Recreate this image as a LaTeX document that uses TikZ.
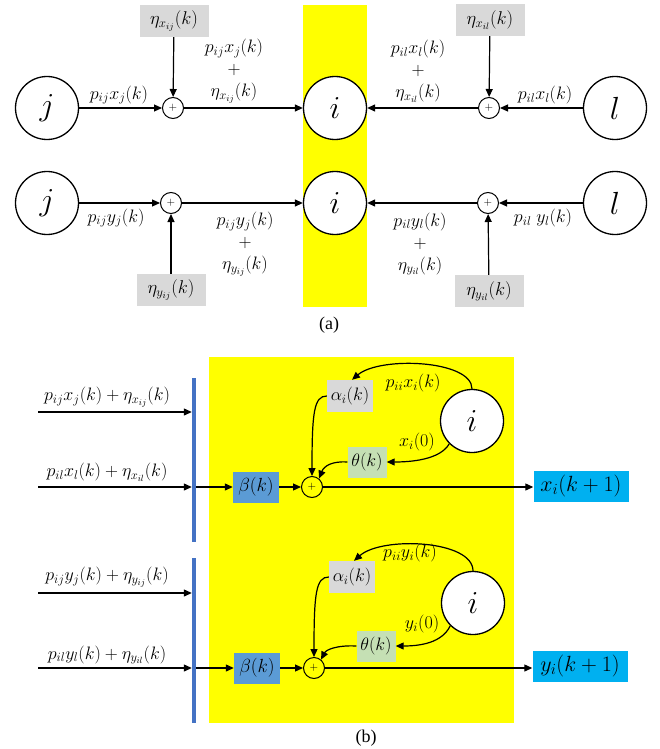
\RequirePackage{fix-cm}
\documentclass[tikz,border=0pt]{standalone}
\usepackage[no-math]{fontspec}
\setmainfont{Liberation Serif}
\usetikzlibrary{arrows.meta,calc}
\definecolor{yel}{HTML}{FFFF00}
\definecolor{grayfill}{HTML}{D9D9D9}
\definecolor{betafill}{HTML}{5B9BD5}
\definecolor{outfill}{HTML}{00B0F0}
\definecolor{thetafill}{HTML}{C5E0B4}
\definecolor{barfill}{HTML}{4472C4}
\begin{document}
\begin{tikzpicture}[x=1pt,y=-1pt,
  bignode/.style={circle,draw,line width=1.3pt,fill=white,minimum size=63pt,inner sep=0pt,font=\fontsize{32}{32}\selectfont},
  sumnode/.style={circle,draw,line width=1pt,minimum size=21pt,inner sep=0pt,font=\fontsize{11}{11}\selectfont},
  graybox/.style={fill=grayfill,minimum width=69pt,minimum height=32pt,inner sep=1pt,font=\fontsize{18.5}{18}\selectfont},
  lab/.style={inner sep=1pt,font=\fontsize{18}{22}\selectfont,align=center},
  inlab/.style={inner sep=1pt,font=\fontsize{18}{20}\selectfont},
  arr/.style={-{Triangle[length=8pt,width=7pt]},line width=1.2pt},
  betabox/.style={fill=betafill,minimum width=46pt,minimum height=31pt,inner sep=0pt,font=\fontsize{19}{20}\selectfont},
  outbox/.style={fill=outfill,minimum width=95pt,minimum height=31pt,inner sep=0pt,font=\fontsize{22}{24}\selectfont},
  alphabox/.style={fill=grayfill,minimum width=46pt,minimum height=32pt,inner sep=0pt,font=\fontsize{18}{18}\selectfont},
  thetabox/.style={fill=thetafill,minimum width=39pt,minimum height=31pt,inner sep=0pt,font=\fontsize{18}{18}\selectfont},
  bar/.style={fill=barfill,minimum width=4pt,inner sep=0pt},
  lbl/.style={inner sep=1pt,font=\fontsize{18}{18}\selectfont},
  captxt/.style={font=\fontsize{18}{20}\selectfont}
]
\useasboundingbox (0,0) rectangle (659,749);

% ---------------- (a) ----------------
\fill[yel] (303,5) rectangle (367,307);

\node[bignode] (j1) at (47,108) {$j$};
\node[bignode] (i1) at (335,108) {$i$};
\node[bignode] (l1) at (615,108) {$l$};
\node[sumnode] (s1) at (173,108) {$+$};
\node[sumnode] (s2) at (489,108) {$+$};
\node[graybox] (n1) at (174,21) {$\eta_{x_{ij}}(k)$};
\node[graybox] (n2) at (490,20) {$\eta_{x_{il}}(k)$};
\draw[arr] (j1) -- (s1);
\draw[arr] (n1) -- (s1);
\draw[arr] (s1) -- (i1);
\draw[arr] (l1) -- (s2);
\draw[arr] (n2) -- (s2);
\draw[arr] (s2) -- (i1);
\node[lab] (la1) at (119,95) {$p_{ij}x_j(k)$};
\node[lab] (la2) at (234,71) {$p_{ij}x_j(k)$\\$+$\\$\eta_{x_{ij}}(k)$};
\node[lab] (la3) at (545,95) {$p_{il}x_l(k)$};
\node[lab] (la4) at (418,71) {$p_{il}x_l(k)$\\$+$\\$\eta_{x_{il}}(k)$};

\node[bignode] (j2) at (47,203) {$j$};
\node[bignode] (i2) at (335,203) {$i$};
\node[bignode] (l2) at (615,203) {$l$};
\node[sumnode] (s3) at (171,203) {$+$};
\node[sumnode] (s4) at (488,203) {$+$};
\node[graybox] (n3) at (171,290) {$\eta_{y_{ij}}(k)$};
\node[graybox] (n4) at (489,291) {$\eta_{y_{il}}(k)$};
\draw[arr] (j2) -- (s3);
\draw[arr] (n3) -- (s3);
\draw[arr] (s3) -- (i2);
\draw[arr] (l2) -- (s4);
\draw[arr] (n4) -- (s4);
\draw[arr] (s4) -- (i2);
\node[lab] (lb1) at (116,218) {$p_{ij}y_j(k)$};
\node[lab] (lb2) at (245,244) {$p_{ij}y_j(k)$\\$+$\\$\eta_{y_{ij}}(k)$};
\node[lab] (lb3) at (543,218) {$p_{il}\;y_l(k)$};
\node[lab] (lb4) at (420,244) {$p_{il}y_l(k)$\\$+$\\$\eta_{y_{il}}(k)$};

\node[captxt] (capa) at (329,325) {(a)};

% ---------------- (b) ----------------
\fill[yel] (209,357) rectangle (514,723);
\node[bar,minimum height=164pt] (bar1) at (194,460) {};
\node[bar,minimum height=165pt] (bar2) at (194,640.5) {};

% top block
\coordinate (in1) at (38,412);
\coordinate (in2) at (38,487);
\draw[arr] (in1) -- (in1 -| bar1.west);
\draw[arr] (in2) -- (in2 -| bar1.west);
\node[inlab] (li1) at (107,397) {$p_{ij}x_j(k)+\eta_{x_{ij}}(k)$};
\node[inlab] (li2) at (107,472) {$p_{il}x_l(k)+\eta_{x_{il}}(k)$};
\node[betabox] (b1) at (256,487) {$\beta(k)$};
\node[sumnode,fill=yel] (sb1) at (312,487) {$+$};
\node[outbox] (o1) at (581,486) {$x_i(k+1)$};
\node[bignode] (ib1) at (472,421) {$i$};
\node[alphabox] (a1) at (350,396) {$\alpha_i(k)$};
\node[thetabox] (t1) at (367,462) {$\theta(k)$};
\draw[arr] (bar1.east |- b1) -- (b1);
\draw[arr] (b1) -- (sb1);
\draw[arr] (sb1) -- (sb1 -| o1.west);
\draw[arr] (ib1.north) .. controls (472,360) and (380,356) .. ($(a1.north)+(2,0)$);
\draw[arr] (ib1.225) .. controls (440,460) and (410,462) .. (t1.east);
\draw[arr] (a1.west) .. controls (314,396) and (312,412) .. (sb1.north);
\draw[arr] (t1.west) .. controls (332,461) and (324,466) .. (sb1.50);
\node[lbl] (lp1) at (413,383) {$p_{ii}x_i(k)$};
\node[lbl] (lx1) at (417,442) {$x_i(0)$};

% bottom block
\coordinate (in3) at (38,593);
\coordinate (in4) at (38,668);
\draw[arr] (in3) -- (in3 -| bar2.west);
\draw[arr] (in4) -- (in4 -| bar2.west);
\node[inlab] (li3) at (107,577) {$p_{ij}y_j(k)+\eta_{y_{ij}}(k)$};
\node[inlab] (li4) at (107,655) {$p_{il}y_l(k)+\eta_{y_{il}}(k)$};
\node[betabox] (b2) at (257,668) {$\beta(k)$};
\node[sumnode,fill=yel] (sb2) at (314,668) {$+$};
\node[outbox] (o2) at (580,666) {$y_i(k+1)$};
\node[bignode] (ib2) at (473,603) {$i$};
\node[alphabox] (a2) at (352,577) {$\alpha_i(k)$};
\node[thetabox] (t2) at (376,646) {$\theta(k)$};
\draw[arr] (bar2.east |- b2) -- (b2);
\draw[arr] (b2) -- (sb2);
\draw[arr] (sb2) -- (sb2 -| o2.west);
\draw[arr] (ib2.north) .. controls (473,540) and (382,536) .. ($(a2.north)+(2,0)$);
\draw[arr] (ib2.225) .. controls (442,643) and (420,646) .. (t2.east);
\draw[arr] (a2.west) .. controls (316,577) and (314,593) .. (sb2.north);
\draw[arr] (t2.west) .. controls (336,645) and (326,650) .. (sb2.50);
\node[lbl] (lp2) at (410,553) {$p_{ii}y_i(k)$};
\node[lbl] (ly2) at (422,624) {$y_i(0)$};

\node[captxt] (capb) at (366,738) {(b)};
\end{tikzpicture}
\end{document}
